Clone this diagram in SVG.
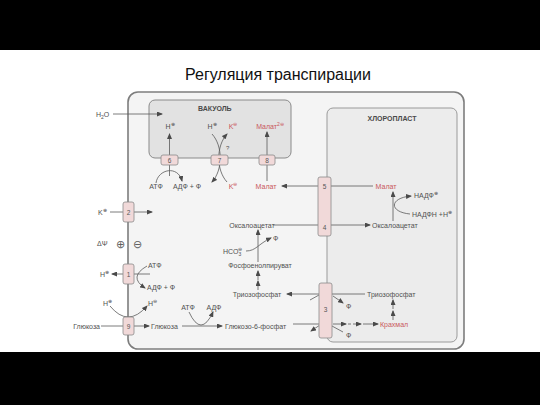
<svg xmlns="http://www.w3.org/2000/svg" width="540" height="405" viewBox="0 0 540 405">
<defs>
<marker id="a" markerUnits="userSpaceOnUse" markerWidth="6" markerHeight="5" refX="5" refY="2.5" orient="auto"><path d="M0,0 L6,2.5 L0,5 z" fill="#4a4a4a"/></marker>
<style>
text{font-family:"Liberation Sans",Arial,sans-serif;font-size:7px;fill:#505050}
.t{font-size:16px;fill:#111}
.b{font-weight:bold;fill:#4a4a4a}
.r{fill:#c9585c}
.n{font-size:6.5px;fill:#555;text-anchor:middle}
.m{text-anchor:middle}
.s{font-size:5px}
.box{fill:#f1d9d9;stroke:#8a8a8a;stroke-width:0.8}
.c{fill:none;stroke:#5a5a5a;stroke-width:0.8}
.ar{marker-end:url(#a)}
.d{stroke-dasharray:3,2}
</style>
</defs>
<rect x="0" y="0" width="540" height="405" fill="#fff"/>
<rect x="0" y="0" width="540" height="50" fill="#000"/>
<rect x="0" y="352" width="540" height="53" fill="#000"/>
<text class="t" x="278" y="80" text-anchor="middle">Регуляция транспирации</text>

<g id="cell"><rect x="128" y="92" width="336" height="257" rx="10" fill="#f4f4f4" stroke="#7d7d7d" stroke-width="1.6"/></g>
<g id="vacuole"><rect x="149" y="100" width="142" height="58" rx="6" fill="#e2e2e2" stroke="#8a8a8a" stroke-width="1"/><text class="b" x="198" y="111">ВАКУОЛЬ</text></g>
<g id="chloroplast"><rect x="327" y="108" width="130" height="234" rx="6" fill="#ececec" stroke="#9a9a9a" stroke-width="1"/><text class="b m" x="392" y="121">ХЛОРОПЛАСТ</text></g>

<g id="connectors">
<path class="c ar" d="M113,114 L162,114"/>
<path class="c ar" d="M169.5,176 L169.5,134"/>
<path class="c ar" d="M156,183 C158,169 178,165 182,181"/>
<path class="c ar" d="M212,134 C223,146 223,170 212,182"/>
<path class="c ar" d="M227,182 C216,170 216,146 227,134"/>
<path class="c ar" d="M267,181 L267,132"/>
<path class="c ar" d="M318,186 L282,186"/>
<path class="c" d="M331,186 L373,186"/>
<path class="c ar" d="M393,221 L393,192"/>
<path class="c ar" d="M410,214 C389,212 389,198 411,196"/>
<path class="c" d="M273,225 L318,225"/>
<path class="c ar" d="M331,225 L370,225"/>
<path class="c ar" d="M110,212 L152,212"/>
<path class="c ar" d="M258,262 L258,230"/>
<path class="c ar" d="M246,251 C256,251 258,244 271,238"/>
<path class="c ar" d="M150,274 L112,274"/>
<path class="c ar" d="M147,266 Q128,277 145,288"/>
<path class="c ar" d="M258,290 L258,281"/>
<path class="c ar" d="M258,280 L258,271"/>
<path class="c ar" d="M319,294 L287,294"/>
<path class="c" d="M310,300 L319,295"/>
<path class="c" d="M332,294 L365,294"/>
<path class="c ar" d="M333,296 L343,303"/>
<path class="c ar" d="M110,306 Q128,328 147,306"/>
<path class="c" d="M101,326 L123,326"/>
<path class="c ar" d="M134,326 L149,326"/>
<path class="c ar" d="M182,326 L222,326"/>
<path class="c ar" d="M189,312 Q201,338 213,312"/>
<path class="c" d="M293,324 L319,324"/>
<path class="c ar" d="M320,325 L311,331"/>
<path class="c" d="M332,326 L343,332"/>
<path class="c ar" d="M333,324 L346,324"/>
<path class="c ar d" d="M348,324 L361,324"/>
<path class="c ar" d="M363,324 L378,324"/>
<path class="c ar" d="M393,320 L393,311"/>
<path class="c ar" d="M393,309 L393,300"/>
</g>

<g id="t6"><rect class="box" x="161" y="155" width="17" height="10" rx="2"/><text class="n" x="169.5" y="162.5">6</text></g>
<g id="t7"><rect class="box" x="211" y="155" width="17" height="10" rx="2"/><text class="n" x="219.5" y="162.5">7</text></g>
<g id="t8"><rect class="box" x="259" y="155" width="16" height="10" rx="2"/><text class="n" x="267" y="162.5">8</text></g>
<g id="t2"><rect class="box" x="123" y="202" width="11" height="20" rx="2"/><text class="n" x="128.5" y="214.5">2</text></g>
<g id="t1"><rect class="box" x="123" y="264" width="11" height="20" rx="2"/><text class="n" x="128.5" y="276.5">1</text></g>
<g id="t9"><rect class="box" x="123" y="317" width="11" height="18" rx="2"/><text class="n" x="128.5" y="328.5">9</text></g>
<g id="t54"><rect class="box" x="318" y="177" width="13" height="59" rx="2"/><text class="n" x="324.5" y="188.5">5</text><text class="n" x="324.5" y="230">4</text></g>
<g id="t3"><rect class="box" x="319" y="283" width="13" height="55" rx="2"/><text class="n" x="325.5" y="312">3</text></g>

<g id="labels">
<text x="96" y="117">H<tspan class="s" dy="1.5">2</tspan><tspan dy="-1.5">O</tspan></text>
<text class="m" x="170" y="129">H<tspan class="s" dy="-3">⊕</tspan></text>
<text class="m" x="212" y="129">H<tspan class="s" dy="-3">⊕</tspan></text>
<text class="m r" x="233" y="129">K<tspan class="s" dy="-3">⊖</tspan></text>
<text class="m r" x="270" y="129">Малат<tspan class="s" dy="-3">2⊖</tspan></text>
<text x="226" y="150" style="font-size:6px">?</text>
<text class="m" x="156" y="189">АТФ</text>
<text class="m" x="187" y="189">АДФ + Ф</text>
<text class="m r" x="233" y="189">K<tspan class="s" dy="-3">⊖</tspan></text>
<text class="m r" x="266" y="189">Малат</text>
<text class="m r" x="386" y="189">Малат</text>
<text x="414" y="198">НАДФ<tspan class="s" dy="-3">⊕</tspan></text>
<text x="412" y="217">НАДФН +Н<tspan class="s" dy="-3">⊕</tspan></text>
<text x="98" y="215">K<tspan class="s" dy="-3">⊕</tspan></text>
<text x="97" y="246">ΔΨ</text>
<text x="120" y="247.5" text-anchor="middle" style="font-size:11px;fill:#606060">⊕</text>
<text x="137" y="247.5" text-anchor="middle" style="font-size:11px;fill:#606060">⊖</text>
<text class="m" x="252" y="227.5">Оксалоацетат</text>
<text x="372" y="227.5">Оксалоацетат</text>
<text x="223" y="254">HCO<tspan class="s" dy="2">3</tspan><tspan class="s" dx="-3" dy="-5">⊖</tspan></text>
<text x="273" y="241">Ф</text>
<text class="m" x="260" y="268">Фосфоенолпируват</text>
<text x="148" y="268">АТФ</text>
<text x="100" y="277">H<tspan class="s" dy="-3">⊕</tspan></text>
<text x="147" y="290">АДФ + Ф</text>
<text class="m" x="257" y="297">Триозофосфат</text>
<text x="367" y="297">Триозофосфат</text>
<text x="346" y="309">Ф</text>
<text x="103" y="306">H<tspan class="s" dy="-3">⊕</tspan></text>
<text x="148" y="306">H<tspan class="s" dy="-3">⊖</tspan></text>
<text x="100" y="329" text-anchor="end">Глюкоза</text>
<text x="151" y="329">Глюкоза</text>
<text class="m" x="188" y="310">АТФ</text>
<text class="m" x="214" y="310">АДФ</text>
<text x="225" y="329">Глюкозо-6-фосфат</text>
<text class="r" x="380" y="327">Крахмал</text>
<text x="346" y="338">Ф</text>
</g>
</svg>
